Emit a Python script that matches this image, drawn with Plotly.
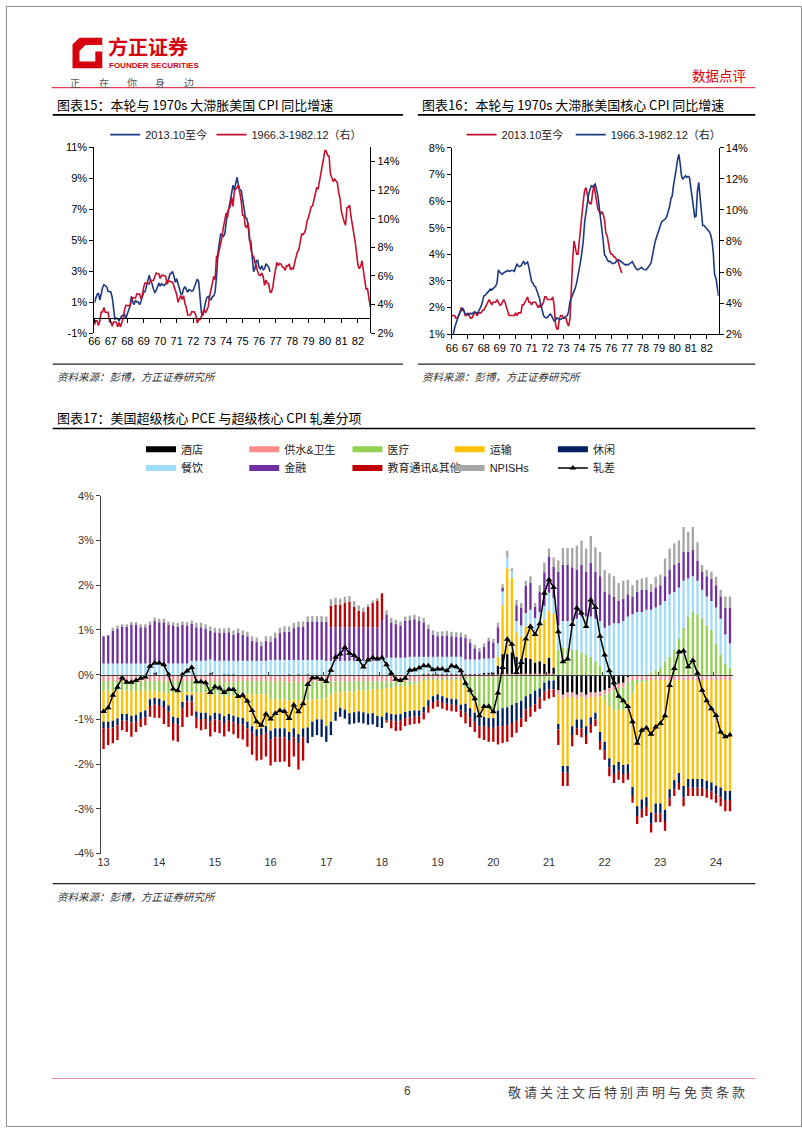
import plotly.graph_objects as go

W, H = 802, 1133
def fx(p): return p / W
def fy(p): return 1 - p / H

FONT = 'Liberation Sans, Noto Sans CJK SC, sans-serif'
CJK = 'Noto Sans CJK SC, Liberation Sans, sans-serif'

# ================= 图表15 data (US CPI YoY, %) =================
ticks_7082 = ['66','67','68','69','70','71','72','73','74','75','76','77','78','79','80','81','82']
cpi_now = [  # 2013.10 - 2024.6
 0.96,1.24,1.50,
 1.58,1.13,1.51,1.95,2.13,2.07,1.99,1.70,1.66,1.66,1.32,0.76,
 -0.09,-0.03,-0.07,-0.20,-0.04,0.12,0.17,0.20,-0.04,0.17,0.50,0.73,
 1.37,1.02,0.85,1.13,1.02,1.01,0.84,1.06,1.46,1.64,1.69,2.07,
 2.50,2.74,2.38,2.20,1.87,1.63,1.73,1.94,2.23,2.04,2.20,2.11,
 2.07,2.21,2.36,2.46,2.80,2.87,2.95,2.70,2.28,2.52,2.18,1.91,
 1.55,1.52,1.86,2.00,1.79,1.65,1.81,1.75,1.71,1.76,2.05,2.29,
 2.49,2.33,1.54,0.33,0.12,0.65,0.99,1.31,1.37,1.18,1.17,1.36,
 1.40,1.68,2.62,4.16,4.99,5.39,5.37,5.25,5.39,6.22,6.81,7.04,
 7.48,7.87,8.54,8.26,8.58,9.06,8.52,8.26,8.20,7.75,7.11,6.45,
 6.41,6.04,4.98,4.93,4.05,2.97,3.18,3.67,3.70,3.24,3.14,3.35,
 3.09,3.15,3.48,3.36,3.27,2.97]
cpi_7082 = [  # 1966.3 - 1982.12
 2.56,2.87,2.87,2.53,2.85,3.48,3.48,3.79,3.47,3.46,
 3.46,2.81,2.80,2.48,2.79,2.78,2.77,2.45,2.75,2.43,2.74,3.04,
 3.65,3.95,3.94,3.93,3.92,4.20,4.49,4.47,4.46,4.75,4.73,4.72,
 4.40,4.69,5.25,5.52,5.51,5.48,5.44,5.71,5.70,5.67,5.93,6.20,
 6.16,6.15,5.82,6.06,6.04,6.01,5.98,5.41,5.66,5.63,5.60,5.57,
 5.29,5.00,4.71,4.16,4.40,4.64,4.36,4.62,4.08,3.81,3.28,3.27,
 3.27,3.51,3.50,3.49,3.23,2.71,2.95,2.94,3.18,3.42,3.67,3.41,
 3.65,3.87,4.59,5.06,5.53,5.97,5.74,7.38,7.36,7.80,8.25,8.71,
 9.39,10.02,10.39,10.09,10.71,10.86,11.51,10.86,11.95,12.06,12.20,12.34,
 11.80,11.23,10.25,10.21,9.47,9.39,9.72,8.60,7.91,7.44,7.38,6.94,
 6.72,6.29,6.07,6.05,6.20,5.97,5.35,5.71,5.49,5.46,4.88,4.86,
 5.22,5.91,6.44,6.95,6.73,6.87,6.83,6.62,6.60,6.39,6.72,6.70,
 6.84,6.43,6.55,6.50,6.97,7.41,7.70,7.84,8.31,8.93,8.89,9.02,
 9.28,9.86,10.09,10.49,10.85,10.89,11.26,11.82,12.18,12.07,12.61,13.29,
 13.91,14.18,14.76,14.73,14.41,14.38,13.13,12.87,12.60,12.77,12.65,12.52,
 11.83,11.41,10.49,10.00,9.78,9.55,10.76,10.80,10.95,10.14,9.59,8.92,
 8.39,7.62,6.78,6.51,6.68,7.06,6.44,5.85,5.04,5.14,4.59,3.83]

# ================= 图表16 data (US core CPI YoY, %) =================
core_now = [
 1.7,1.7,1.7,
 1.6,1.6,1.7,1.8,2.0,1.9,1.9,1.7,1.7,1.8,1.7,1.6,
 1.6,1.7,1.8,1.8,1.7,1.8,1.8,1.8,1.9,1.9,2.0,2.1,
 2.2,2.3,2.2,2.1,2.2,2.2,2.2,2.3,2.2,2.1,2.1,2.2,
 2.3,2.2,2.0,1.9,1.7,1.7,1.7,1.7,1.7,1.8,1.7,1.8,
 1.8,1.8,2.1,2.1,2.2,2.3,2.4,2.2,2.2,2.1,2.2,2.2,
 2.2,2.1,2.0,2.1,2.0,2.1,2.2,2.4,2.4,2.3,2.3,2.3,
 2.3,2.4,2.1,1.4,1.2,1.2,1.6,1.7,1.7,1.6,1.6,1.6,
 1.4,1.3,1.6,3.0,3.8,4.5,4.3,4.0,4.0,4.6,4.9,5.5,
 6.0,6.4,6.5,6.2,6.0,5.9,5.9,6.3,6.6,6.3,6.0,5.7,
 5.6,5.5,5.6,5.5,5.3,4.8,4.7,4.3,4.1,4.0,4.0,3.9,
 3.9,3.8,3.8,3.6,3.4,3.3]
core_7082 = [
 1.95,2.0,2.4,2.7,3.0,3.2,3.4,3.5,3.7,3.5,
 3.3,3.3,3.25,3.3,3.35,3.3,3.4,3.45,3.4,3.35,3.45,3.6,
 3.8,4.1,4.45,4.5,4.6,4.7,4.85,4.9,4.85,4.95,5.0,5.1,
 5.3,6.14,6.0,5.9,5.85,5.95,6.0,6.0,6.1,6.05,6.1,6.1,
 6.1,6.05,6.3,6.5,6.4,6.35,6.4,6.6,6.7,6.5,6.6,6.65,
 6.3,5.8,5.4,5.3,5.1,5.05,4.8,4.5,4.3,3.9,3.5,3.2,
 3.1,3.05,3.07,3.2,3.3,3.2,2.95,2.85,2.9,3.05,3.0,2.95,
 2.95,3.0,3.07,3.1,3.15,3.2,3.5,4.1,4.3,4.5,4.7,4.98,
 5.3,5.7,6.2,6.7,7.3,8.0,9.2,9.8,10.5,11.0,11.3,11.56,
 11.5,11.6,11.66,11.3,10.92,10.2,9.5,9.0,8.0,7.1,7.0,6.8,
 6.67,6.7,6.6,6.55,6.57,6.6,6.7,6.75,6.78,6.7,6.6,6.57,
 6.5,6.45,6.5,6.46,6.55,6.6,6.67,6.5,6.3,6.2,6.14,6.2,
 6.25,6.3,6.2,6.15,6.14,6.2,6.3,6.45,6.57,7.0,7.52,7.9,
 8.2,8.48,8.7,8.9,9.22,9.3,9.35,9.43,9.6,9.86,10.2,10.7,
 10.9,11.6,12.0,12.6,13.2,13.58,13.0,12.2,11.98,12.1,12.2,12.1,
 12.15,12.1,11.5,10.7,10.0,9.54,9.6,11.2,11.77,10.8,9.8,9.0,
 9.0,8.9,8.8,8.7,8.6,8.4,8.0,7.2,5.8,5.6,5.0,4.45]

# ================= 图表17 data (contribution, pct pts), 2013.1 - 2024.4 =================
years17 = ['13','14','15','16','17','18','19','20','21','22','23','24']
hotel = [
 0,0,0,0,0,0,0,0,0,0,0,0.03,
 0,0,-0.02,0,0,0,0,0,0,0,0,0.03,
 0,0,-0.03,-0.03,-0.02,0,0,0,0,0,0,0,
 0,0,0,0,-0.03,0,-0.03,0,-0.03,0,0,0,
 0,0,0,0,0,0,0,0,0,0,0,0,
 0,0,-0.02,0,0,0,0,0,0,0.02,0.02,0.02,
 0.02,0.02,0.02,0.02,0.02,0.02,0.02,0.02,0.02,0.02,0.04,0.04,
 0.05,0.2,0.46,0.46,0.5,0.4,0.35,0.38,0.35,0.27,0.3,0.24,
 0.38,0.16,-0.35,-0.45,-0.4,-0.4,-0.45,-0.4,-0.45,-0.4,-0.4,-0.38,
 -0.35,-0.3,-0.25,-0.2,-0.18,-0.05,0,0,0,0,0,0,
 0,0,0,0,0,0,0,0,0,0,0,0,
 0,0,0,0]
water = [
 -0.14,-0.14,-0.14,-0.14,-0.14,-0.14,-0.14,-0.14,-0.14,-0.14,-0.14,-0.14,
 -0.14,-0.14,-0.14,-0.14,-0.14,-0.14,-0.14,-0.14,-0.14,-0.14,-0.14,-0.14,
 -0.14,-0.14,-0.14,-0.14,-0.14,-0.14,-0.14,-0.14,-0.14,-0.14,-0.14,-0.14,
 -0.15,-0.15,-0.15,-0.15,-0.15,-0.15,-0.15,-0.15,-0.15,-0.15,-0.15,-0.15,
 -0.15,-0.15,-0.15,-0.15,-0.15,-0.15,-0.15,-0.15,-0.15,-0.15,-0.15,-0.15,
 -0.15,-0.15,-0.15,-0.15,-0.15,-0.15,-0.15,-0.15,-0.15,-0.1,-0.1,-0.1,
 -0.1,-0.1,-0.1,-0.1,-0.1,-0.1,-0.05,-0.05,-0.05,-0.05,-0.05,-0.05,
 -0.05,-0.05,-0.03,-0.03,-0.03,-0.03,-0.03,-0.03,-0.03,-0.03,-0.03,-0.03,
 -0.03,-0.03,-0.1,-0.1,-0.1,-0.1,-0.1,-0.1,-0.1,-0.1,-0.1,-0.1,
 -0.1,-0.1,-0.1,-0.1,-0.1,-0.1,-0.12,-0.12,-0.12,-0.12,-0.12,-0.12,
 -0.12,-0.12,-0.12,-0.12,-0.12,-0.12,-0.12,-0.12,-0.12,-0.12,-0.12,-0.12,
 -0.12,-0.12,-0.12,-0.12]
medical = [
 -0.22,-0.22,-0.22,-0.22,-0.22,-0.22,-0.22,-0.22,-0.22,-0.22,-0.22,-0.22,
 -0.25,-0.25,-0.25,-0.25,-0.25,-0.25,-0.25,-0.25,-0.25,-0.25,-0.25,-0.25,
 -0.3,-0.3,-0.3,-0.3,-0.3,-0.3,-0.3,-0.3,-0.3,-0.3,-0.3,-0.3,
 -0.4,-0.4,-0.4,-0.4,-0.4,-0.4,-0.4,-0.4,-0.4,-0.4,-0.4,-0.4,
 -0.38,-0.3,-0.25,-0.24,-0.23,-0.22,-0.22,-0.2,-0.2,-0.2,-0.18,-0.17,
 -0.17,-0.15,-0.13,-0.12,-0.1,-0.1,-0.08,-0.07,-0.05,-0.02,-0.02,-0.02,
 -0.02,-0.02,-0.02,-0.02,-0.02,-0.02,-0.25,-0.4,-0.55,-0.65,-0.7,-0.72,
 -0.72,-0.75,-0.72,-0.7,-0.65,-0.6,-0.55,-0.45,-0.4,-0.33,-0.28,-0.15,
 -0.1,-0.1,0.55,0.6,0.6,0.55,0.55,0.5,0.45,0.4,0.3,0.2,
 -0.1,-0.3,-0.45,-0.5,-0.5,-0.45,-0.3,-0.1,-0.05,-0.05,0.05,0.1,
 0.15,0.3,0.4,0.55,0.8,1.05,1.3,1.4,1.35,1.25,1.1,1.0,
 0.7,0.45,0.25,0.15]
transport = [
 -0.69,-0.69,-0.67,-0.62,-0.52,-0.52,-0.56,-0.54,-0.48,-0.44,-0.19,-0.16,
 -0.15,-0.19,-0.28,-0.55,-0.58,-0.22,-0.07,-0.07,-0.43,-0.46,-0.46,-0.52,
 -0.41,-0.43,-0.46,-0.41,-0.46,-0.51,-0.53,-0.61,-0.71,-0.78,-0.76,-0.71,
 -0.7,-0.65,-0.65,-0.65,-0.7,-0.65,-0.75,-0.65,-0.6,-0.5,-0.45,-0.45,
 -0.62,-0.6,-0.43,-0.35,-0.4,-0.49,-0.47,-0.47,-0.49,-0.52,-0.53,-0.6,
 -0.62,-0.55,-0.58,-0.62,-0.63,-0.58,-0.58,-0.58,-0.6,-0.6,-0.45,-0.36,
 -0.32,-0.36,-0.4,-0.42,-0.43,-0.55,-0.35,-0.3,-0.25,-0.25,-0.2,-0.2,
 -0.2,0.2,1.1,1.92,1.66,0.55,0.5,0.7,0.8,0.7,0.8,1.0,
 1.05,1.2,-0.65,-1.49,-1.54,-0.65,-0.45,-0.5,-0.6,-0.45,-0.35,-0.8,
 -0.95,-1.17,-1.22,-1.15,-1.24,-1.4,-2.09,-2.72,-2.62,-2.57,-2.96,-2.76,
 -2.76,-2.9,-2.44,-2.24,-2.08,-2.37,-2.21,-2.21,-2.21,-2.21,-2.25,-2.29,
 -2.36,-2.4,-2.48,-2.48]
leisure = [
 -0.15,-0.15,-0.15,-0.15,-0.15,-0.15,-0.15,-0.15,-0.15,-0.15,-0.15,-0.15,
 -0.14,-0.14,-0.14,-0.14,-0.14,-0.14,-0.14,-0.14,-0.14,-0.14,-0.14,-0.14,
 -0.15,-0.15,-0.15,-0.15,-0.15,-0.15,-0.15,-0.15,-0.15,-0.15,-0.15,-0.15,
 -0.2,-0.2,-0.2,-0.2,-0.2,-0.2,-0.2,-0.2,-0.35,-0.34,-0.35,-0.39,
 -0.35,-0.3,-0.2,-0.2,-0.2,-0.25,-0.25,-0.25,-0.25,-0.25,-0.25,-0.25,
 -0.25,-0.17,-0.15,-0.15,-0.15,-0.14,-0.14,-0.14,-0.13,-0.13,-0.13,-0.13,
 -0.13,-0.13,-0.13,-0.13,-0.13,-0.13,-0.2,-0.2,-0.2,-0.2,-0.2,-0.2,
 -0.22,-0.35,-0.4,-0.4,-0.4,-0.4,-0.4,-0.3,-0.3,-0.3,-0.2,-0.2,
 -0.2,-0.2,-0.12,-0.15,-0.15,-0.2,-0.2,-0.2,-0.2,-0.15,-0.15,-0.2,
 -0.2,-0.2,-0.2,-0.2,-0.2,-0.2,-0.2,-0.22,-0.22,-0.22,-0.25,-0.22,
 -0.22,-0.25,-0.2,-0.2,-0.22,-0.25,-0.2,-0.2,-0.2,-0.2,-0.2,-0.2,
 -0.2,-0.22,-0.2,-0.2]
dining = [
 0.25,0.25,0.25,0.25,0.25,0.25,0.25,0.25,0.25,0.25,0.25,0.25,
 0.25,0.25,0.25,0.25,0.25,0.25,0.25,0.31,0.31,0.31,0.31,0.31,
 0.31,0.31,0.31,0.31,0.31,0.31,0.31,0.31,0.31,0.31,0.31,0.31,
 0.33,0.33,0.33,0.33,0.33,0.33,0.33,0.33,0.33,0.33,0.33,0.33,
 0.31,0.31,0.31,0.31,0.31,0.31,0.31,0.31,0.31,0.31,0.31,0.31,
 0.36,0.38,0.38,0.38,0.38,0.38,0.4,0.4,0.4,0.38,0.38,0.38,
 0.38,0.38,0.38,0.38,0.38,0.38,0.32,0.32,0.32,0.32,0.32,0.32,
 0.32,0.3,0.3,0.24,0.15,0.25,0.25,0.3,0.3,0.3,0.3,0.3,
 0.4,0.35,0.55,0.6,0.6,0.65,0.7,0.8,0.85,0.9,0.95,1.0,
 1.05,1.1,1.15,1.15,1.2,1.3,1.35,1.4,1.4,1.45,1.4,1.4,
 1.4,1.35,1.4,1.3,1.15,1.05,0.85,0.8,0.75,0.65,0.65,0.65,
 0.8,0.8,0.65,0.55]
finance = [
 0.61,0.63,0.74,0.78,0.82,0.82,0.87,0.86,0.81,0.81,0.86,0.92,
 0.92,0.92,0.86,0.84,0.83,0.86,0.85,0.83,0.75,0.75,0.72,0.64,
 0.64,0.62,0.62,0.64,0.58,0.62,0.58,0.55,0.45,0.42,0.33,0.45,
 0.41,0.49,0.6,0.63,0.63,0.71,0.74,0.74,0.85,0.86,0.86,0.86,
 0.87,0.75,0.75,0.75,0.75,0.75,0.75,0.75,0.75,0.75,0.75,0.75,
 0.86,0.96,0.79,0.75,0.71,0.82,0.82,0.84,0.8,0.77,0.62,0.49,
 0.46,0.47,0.48,0.46,0.45,0.44,0.48,0.38,0.25,0.18,0.26,0.39,
 0.35,0.36,0.08,0.0,0.0,0.35,0.4,0.6,0.6,0.25,0.45,0.75,
 0.8,0.7,1.2,1.25,1.25,1.2,1.1,1.15,1.0,1.2,1.05,1.0,
 0.8,0.7,0.6,0.5,0.5,0.5,0.4,0.45,0.5,0.45,0.4,0.45,
 0.45,0.55,0.55,0.6,0.55,0.65,0.6,0.6,0.45,0.4,0.45,0.5,
 0.5,0.5,0.6,0.8]
education = [
 -0.46,-0.37,-0.35,-0.33,-0.21,-0.25,-0.32,-0.23,-0.18,-0.18,-0.24,-0.29,
 -0.29,-0.38,-0.34,-0.39,-0.39,-0.42,-0.35,-0.32,-0.24,-0.25,-0.23,-0.33,
 -0.28,-0.29,-0.3,-0.24,-0.26,-0.32,-0.33,-0.41,-0.49,-0.55,-0.55,-0.53,
 -0.58,-0.55,-0.55,-0.54,-0.58,-0.43,-0.59,-0.52,0,0,0,0,
 0,0.48,0.51,0.51,0.55,0.57,0.46,0.37,0.34,0.46,0.55,0.6,
 0.6,-0.05,-0.17,-0.22,-0.22,-0.18,-0.17,-0.16,-0.16,-0.15,-0.15,-0.15,
 -0.15,-0.15,-0.15,-0.15,-0.15,-0.15,-0.24,-0.22,-0.23,-0.27,-0.31,-0.33,
 -0.31,-0.41,-0.38,-0.37,-0.32,-0.27,-0.19,-0.27,-0.21,-0.17,-0.25,-0.2,
 -0.21,-0.17,-0.35,-0.3,-0.3,-0.25,-0.15,-0.2,-0.2,-0.2,-0.15,-0.2,
 -0.2,-0.2,-0.2,-0.2,-0.2,-0.15,-0.15,-0.18,-0.18,-0.2,-0.2,-0.2,
 -0.2,-0.22,-0.18,-0.15,-0.15,-0.2,-0.18,-0.18,-0.18,-0.18,-0.18,-0.18,
 -0.18,-0.2,-0.25,-0.25]
npish = [
 0,0,0.06,0.07,0.06,0.06,0.06,0.07,0.07,0.07,0.08,0.08,
 0.08,0.08,0.08,0.08,0.08,0.08,0.07,0.07,0.1,0.1,0.1,0.1,
 0.1,0.1,0.1,0.1,0.1,0.1,0.1,0.1,0.1,0.1,0.1,0.1,
 0.12,0.12,0.12,0.12,0.12,0.12,0.12,0.12,0.12,0.12,0.12,0.12,
 0.12,0.15,0.15,0.13,0.13,0.13,0.12,0.12,0.1,0.05,0.05,0.05,
 0,0.1,0.1,0.1,0.1,0.1,0.1,0.1,0.1,0.1,0.1,0.1,
 0.1,0.1,0.1,0.1,0.1,0.1,0.08,0.08,0.08,0.08,0.08,0.08,
 0.08,0.1,0.08,0.15,0.07,0.12,0.1,0.12,0.15,0.08,0.15,0.21,
 0.19,0.21,0.26,0.38,0.38,0.43,0.54,0.55,0.52,0.6,0.55,0.54,
 0.49,0.46,0.45,0.4,0.4,0.32,0.25,0.27,0.25,0.27,0.17,0.24,
 0.24,0.4,0.47,0.48,0.5,0.55,0.44,0.5,0.41,0.15,0.14,0.15,
 0.19,0.15,0.25,0.25]
spread = [
 -0.82,-0.74,-0.46,-0.28,-0.07,-0.17,-0.17,-0.13,-0.08,-0.05,0.19,0.26,
 0.26,0.22,0.0,-0.32,-0.36,0.0,0.08,0.16,-0.16,-0.16,-0.18,-0.4,
 -0.27,-0.3,-0.4,-0.33,-0.33,-0.49,-0.46,-0.59,-0.8,-1.05,-1.13,-0.88,
 -0.99,-0.87,-0.8,-0.82,-0.98,-0.68,-0.83,-0.65,-0.22,-0.07,-0.07,-0.1,
 -0.15,0.1,0.39,0.46,0.61,0.48,0.43,0.34,0.17,0.33,0.38,0.35,
 0.38,0.22,0.03,-0.1,-0.13,-0.08,0.1,0.11,0.15,0.2,0.2,0.11,
 0.13,0.13,0.09,0.2,0.18,0.09,-0.19,-0.35,-0.54,-0.92,-0.71,-0.71,
 -0.83,-0.41,0.16,0.79,0.68,0.05,0.27,0.8,1.08,0.9,1.14,1.82,
 2.12,1.95,0.96,0.29,0.35,1.12,1.49,1.38,1.08,1.67,1.5,0.86,
 0.44,0.09,-0.18,-0.48,-0.58,-0.71,-1.05,-1.53,-1.24,-1.19,-1.33,-1.17,
 -1.09,-0.92,-0.24,0.14,0.51,0.53,0.18,0.32,0.03,-0.35,-0.58,-0.76,
 -0.91,-1.28,-1.39,-1.35]

series17 = [
 ('酒店', hotel, '#000000'),
 ('供水&卫生', water, '#ff8c8c'),
 ('医疗', medical, '#92d050'),
 ('运输', transport, '#ffc000'),
 ('休闲', leisure, '#002060'),
 ('餐饮', dining, '#9fdcf8'),
 ('金融', finance, '#7030a0'),
 ('教育通讯&其他', education, '#c00000'),
 ('NPISHs', npish, '#a6a6a6'),
]

NAVY = '#1d3a80'
RED = '#c8102e'

idx_now = list(range(len(cpi_now)))
idx_70s = list(range(len(cpi_7082)))
idx17 = list(range(len(spread)))

fig = go.Figure()

# ---- chart 15 ----
fig.add_trace(go.Scatter(x=idx_now, y=cpi_now, mode='lines', name='2013.10至今',
                         line=dict(color=NAVY, width=1.6), xaxis='x', yaxis='y', legend='legend'))
fig.add_trace(go.Scatter(x=idx_70s, y=cpi_7082, mode='lines', name='1966.3-1982.12（右）',
                         line=dict(color=RED, width=1.6), xaxis='x', yaxis='y2', legend='legend2'))
fig.add_trace(go.Scatter(x=[None], y=[None], xaxis='x4', yaxis='y', showlegend=False, hoverinfo='skip'))

# ---- chart 16 ----
fig.add_trace(go.Scatter(x=idx_now[:len(core_now)], y=core_now, mode='lines', name='2013.10至今',
                         line=dict(color=RED, width=1.6), xaxis='x2', yaxis='y3', legend='legend3'))
fig.add_trace(go.Scatter(x=idx_70s, y=core_7082, mode='lines', name='1966.3-1982.12（右）',
                         line=dict(color=NAVY, width=1.6), xaxis='x2', yaxis='y4', legend='legend4'))

# ---- chart 17 ----
for k, (name, vals, col) in enumerate(series17):
    fig.add_trace(go.Bar(x=idx17, y=vals, name=name, marker=dict(color=col, line=dict(width=0)),
                         xaxis='x3', yaxis='y5', showlegend=False))
    fig.add_trace(go.Scatter(x=[None], y=[None], mode='lines', name=name,
                             line=dict(color=col, width=6), xaxis='x3', yaxis='y5',
                             legend='legend%d' % (5 + k), hoverinfo='skip'))
fig.add_trace(go.Scatter(x=idx17, y=spread, mode='lines+markers', name='轧差',
                         line=dict(color='#000000', width=1.5),
                         marker=dict(symbol='triangle-up', size=6, color='#000000'),
                         xaxis='x3', yaxis='y5', legend='legend14'))
fig.add_trace(go.Scatter(x=[None], y=[None], xaxis='x5', yaxis='y5', showlegend=False, hoverinfo='skip'))

# ---------- axes ----------
tickfont = dict(size=11, family=FONT, color='#000')
tickfont17 = dict(size=11, family=FONT, color='#333')
base = dict(showgrid=False, zeroline=False)

d15x = [fx(89), fx(367)]; d15y = [fy(330.7), fy(142.7)]
d16x = [fx(449.3), fx(718)]; d16y = [fy(331.7), fy(143.3)]
d17x = [fx(95.7), fx(732)]; d17y = [fy(856.7), fy(495)]
r15 = [-1, 11]; r17 = [-4, 4]
pos15 = d15y[0] + (0 - r15[0]) / (r15[1] - r15[0]) * (d15y[1] - d15y[0])
pos17 = d17y[0] + (0 - r17[0]) / (r17[1] - r17[0]) * (d17y[1] - d17y[0])
xt70 = [12 * k for k in range(len(ticks_7082))]

def pct(vals):
    return ['%d%%' % v if v >= 0 else '-%d%%' % (-v) for v in vals]

l15 = [-1, 1, 3, 5, 7, 9, 11]
r15t = [2, 4, 6, 8, 10, 12, 14]
l16 = [1, 2, 3, 4, 5, 6, 7, 8]
r16t = [2, 4, 6, 8, 10, 12, 14]
l17 = [-4, -3, -2, -1, 0, 1, 2, 3, 4]

axline = dict(showline=True, linecolor='#000', linewidth=1, ticks='outside', ticklen=4, tickcolor='#000')

fig.update_layout(
    xaxis=dict(domain=d15x, anchor='y', range=[0, 201], tickvals=xt70, ticktext=ticks_7082,
               showline=False, ticks='', tickfont=tickfont, **base),
    xaxis4=dict(overlaying='x', anchor='free', position=pos15, range=[0, 201], tickvals=xt70,
                showticklabels=False, **axline, **base),
    yaxis=dict(domain=d15y, anchor='x', range=r15, tickvals=l15, ticktext=pct(l15),
               tickfont=tickfont, **axline, **base),
    yaxis2=dict(overlaying='y', side='right', anchor='x', range=[2, 15], tickvals=r15t,
                ticktext=pct(r15t), tickfont=tickfont, **axline, **base),
    xaxis2=dict(domain=d16x, anchor='y3', range=[0, 201], tickvals=xt70, ticktext=ticks_7082,
                tickfont=tickfont, **axline, **base),
    yaxis3=dict(domain=d16y, anchor='x2', range=[1, 8], tickvals=l16, ticktext=pct(l16),
                tickfont=tickfont, **axline, **base),
    yaxis4=dict(overlaying='y3', side='right', anchor='x2', range=[2, 14], tickvals=r16t,
                ticktext=pct(r16t), tickfont=tickfont, **axline, **base),
    xaxis3=dict(domain=d17x, anchor='y5', range=[-0.556, 135.55], tickvals=[12 * k for k in range(len(years17))],
                ticktext=years17, showline=False, ticks='', tickfont=tickfont17, **base),
    xaxis5=dict(overlaying='x3', anchor='free', position=pos17, range=[-0.556, 135.55],
                tickvals=[12 * k + 11.5 for k in range(len(years17) - 1)], showticklabels=False,
                showline=True, linecolor='#404040', linewidth=1, ticks='inside', ticklen=3,
                tickcolor='#404040', **base),
    yaxis5=dict(domain=d17y, anchor='x3', range=r17, tickvals=l17, ticktext=pct(l17),
                tickfont=tickfont17, showline=True, linecolor='#404040', linewidth=1,
                ticks='outside', ticklen=4, tickcolor='#404040', **base),
)

# ---------- legends (one per entry, placed like the original) ----------
def leg(xpx, ypx):
    return dict(x=fx(xpx), y=fy(ypx), xanchor='left', yanchor='middle', orientation='h',
                bgcolor='rgba(0,0,0,0)', borderwidth=0, itemwidth=30, tracegroupgap=0,
                font=dict(size=11, family=FONT, color='#222'))
legs = {
    'legend': leg(100, 130), 'legend2': leg(207, 130),
    'legend3': leg(459, 130), 'legend4': leg(569, 130),
}
cols = [136, 240, 344, 447, 551]
for k in range(10):
    legs['legend%d' % (5 + k)] = leg(cols[k % 5], 448 if k < 5 else 467)
fig.update_layout(**legs)

# ---------- page decorations ----------
def seg(x0, y0, x1, y1, color, width):
    return dict(type='line', xref='paper', yref='paper', x0=fx(x0), y0=fy(y0), x1=fx(x1), y1=fy(y1),
                line=dict(color=color, width=width), layer='above')
def poly(pts, color):
    p = 'M ' + ' L '.join('%.5f,%.5f' % (fx(a), fy(b)) for a, b in pts) + ' Z'
    return dict(type='path', xref='paper', yref='paper', path=p, fillcolor=color, line=dict(width=0))

LOGO_RED = '#d7000f'
shapes = [
    dict(type='rect', xref='paper', yref='paper', x0=fx(0.5), y0=fy(0.5), x1=fx(801.5), y1=fy(1132.5),
         line=dict(color='#8a8a8a', width=1)),
    seg(46, 82.5, 755, 82.5, '#e0404e', 1.2),
    seg(47, 110, 400, 110, '#000', 1.6), seg(415, 110, 755, 110, '#000', 1.6),
    seg(47, 362, 400, 362, '#222', 1.3), seg(415, 362, 755, 362, '#222', 1.3),
    seg(47, 427, 755, 427, '#000', 1.6), seg(47, 887, 755, 887, '#222', 1.3),
    seg(46, 1084, 755, 1084, '#ec8fa3', 1.2),
    poly([(74, 32), (97, 32), (97, 63), (67, 63), (67, 39)], LOGO_RED),
    poly([(80, 39.5), (97, 39.5), (97, 46), (90, 46), (90, 56), (74, 56), (74, 45.5)], '#ffffff'),
]
fig.update_layout(shapes=shapes)

def txt(x, y, s, size, color='#000', anchor='left', family=CJK):
    return dict(x=fx(x), y=fy(y), xref='paper', yref='paper', text=s, showarrow=False,
                xanchor=anchor, yanchor='middle', font=dict(size=size, color=color, family=family))

src = '<i>资料来源：彭博，方正证券研究所</i>'
ann = [
    txt(101, 40.5, '<b>方正证券</b>', 20, LOGO_RED),
    txt(102, 60.5, '<b>FOUNDER SECURITIES</b>', 8, LOGO_RED, family='Liberation Sans Narrow, Liberation Sans'),
    txt(748, 70, '数据点评', 13.5, LOGO_RED, 'right'),
    txt(49, 100, '图表15：本轮与 1970s 大滞胀美国 CPI 同比增速', 13),
    txt(417, 100, '图表16：本轮与 1970s 大滞胀美国核心 CPI 同比增速', 13),
    txt(49, 416, '图表17：美国超级核心 PCE 与超级核心 CPI 轧差分项', 13),
    txt(49, 374, src, 10.5, '#333'),
    txt(417, 374, src, 10.5, '#333'),
    txt(49, 900, src, 10.5, '#333'),
    txt(405, 1097, '6', 12, '#444', 'center', FONT),
    txt(750, 1097, '<span style="letter-spacing:3px">敬请关注文后特别声明与免责条款</span>', 13, '#444', 'right'),
]
for ch, cx in zip(['正', '在', '你', '身', '边'], [70, 99, 127, 155, 184]):
    ann.append(txt(cx, 77.5, ch, 10, '#555', 'center'))
fig.update_layout(annotations=ann)

fig.update_layout(width=W, height=H, margin=dict(l=0, r=0, t=0, b=0),
                  paper_bgcolor='#ffffff', plot_bgcolor='rgba(0,0,0,0)',
                  barmode='relative', bargap=0.5, font=dict(family=FONT))

fig.write_html("out.html", config={'displayModeBar': False},
               post_script="document.documentElement.style.margin='0';document.body.style.margin='0';document.body.style.overflow='hidden';")
